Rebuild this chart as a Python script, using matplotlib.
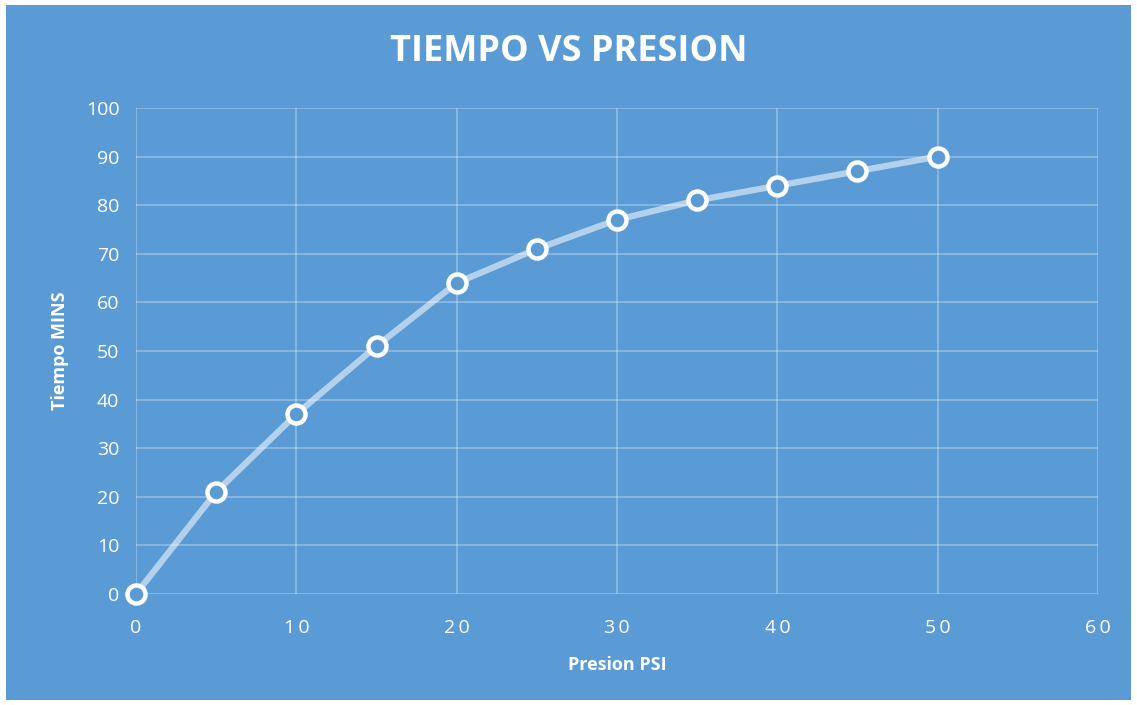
import matplotlib.pyplot as plt
from matplotlib.patches import Rectangle

presion = [0, 5, 10, 15, 20, 25, 30, 35, 40, 45, 50]
tiempo = [0, 21, 37, 51, 64, 71, 77, 81, 84, 87, 90]
x_ticks = [0, 10, 20, 30, 40, 50, 60]
y_ticks = [0, 10, 20, 30, 40, 50, 60, 70, 80, 90, 100]

bg = '#5B9BD5'
plt.rcParams['font.family'] = ['Open Sans', 'DejaVu Sans']

fig = plt.figure(figsize=(11.37, 7.05), dpi=100)
fig.patch.set_facecolor('white')
fig.patches.append(Rectangle((6 / 1137, 1 - 700 / 705), 1125 / 1137, 695 / 705,
                             transform=fig.transFigure, facecolor=bg, edgecolor='none', zorder=-1))

ax = fig.add_axes([136 / 1137, 1 - 594 / 705, (1098 - 136) / 1137, (594 - 108) / 705])
ax.set_facecolor('none')
ax.set_xlim(0, 60)
ax.set_ylim(0, 100)
ax.set_xticks(x_ticks)
ax.set_yticks(y_ticks)
ax.grid(True, color='white', alpha=0.35, linewidth=1.1)
for s in ax.spines.values():
    s.set_visible(False)
ax.tick_params(length=0, colors='white', labelsize=14)
ax.tick_params(axis='x', pad=18)
ax.tick_params(axis='y', pad=12)
ax.set_xticklabels(['\u2009'.join(str(t)) for t in x_ticks])

ax.plot(presion, tiempo, color=(1, 1, 1, 0.55), linewidth=4.5, zorder=3, solid_capstyle='round')
ax.plot(presion, tiempo, linestyle='none', marker='o', markersize=13, markerfacecolor=bg,
        markeredgecolor='white', markeredgewidth=3.2, zorder=4, clip_on=False)

ax.set_xlabel('Presion PSI', color='white', fontsize=13, fontweight='bold', labelpad=14)
ax.set_ylabel('Tiempo MINS', color='white', fontsize=13, fontweight='bold', labelpad=12)
fig.text(0.5, 1 - 52 / 705, 'TIEMPO VS PRESION', color='white', fontsize=26,
         fontweight='bold', ha='center', va='center')

fig.savefig('out.png', dpi=100, facecolor=fig.get_facecolor())
